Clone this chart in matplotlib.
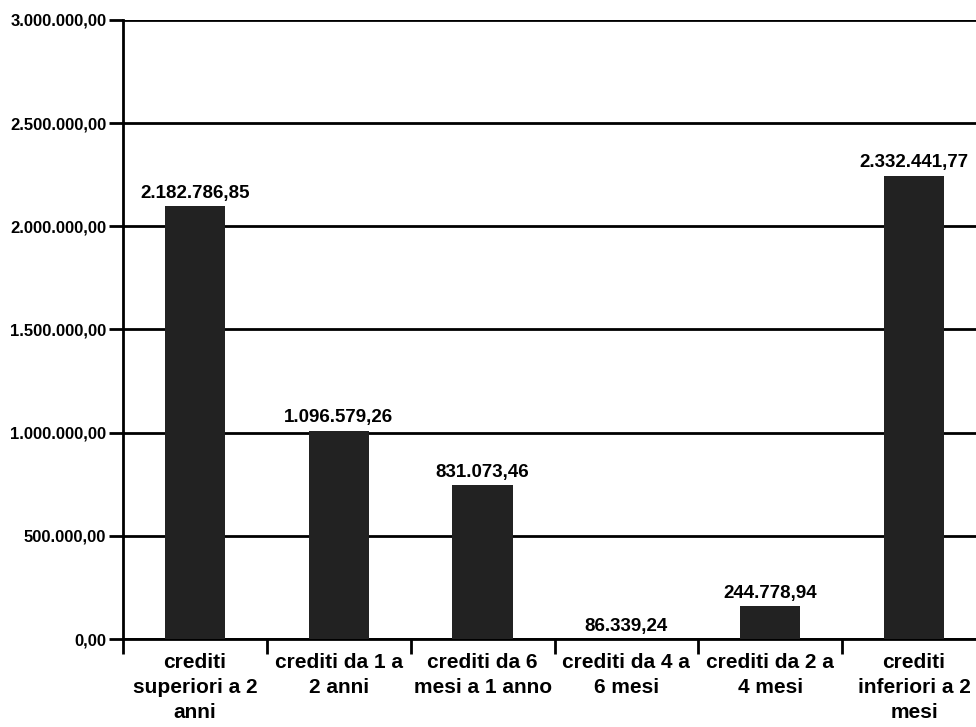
import matplotlib
matplotlib.use("Agg")
import matplotlib.pyplot as plt
import numpy as np

categories = ["crediti\nsuperiori a 2\nanni", "crediti da 1 a\n2 anni", "crediti da 6\nmesi a 1 anno",
              "crediti da 4 a\n6 mesi", "crediti da 2 a\n4 mesi", "crediti\ninferiori a 2\nmesi"]
values = [2182786.85, 1096579.26, 831073.46, 86339.24, 244778.94, 2332441.77]
tick_values = [0, 500000, 1000000, 1500000, 2000000, 2500000, 3000000]


def fmt(v):
    s = f"{v:,.2f}"
    return s.replace(",", "X").replace(".", ",").replace("X", ".")


plt.rcParams['font.family'] = ['Liberation Sans', 'DejaVu Sans']
plt.rcParams['font.weight'] = 'bold'

fig = plt.figure(figsize=(9.76, 7.27), dpi=100)
ax = fig.add_axes([123 / 976, 88 / 727, 863 / 976, 619 / 727])

# the original chart's value axis starts at the smallest value but is labelled 0
base = min(values)
x = np.arange(len(values))
ax.bar(x, values, width=0.42, color="#222222", zorder=3)

ax.set_xlim(-0.5, len(values) - 0.5)
ax.set_ylim(base, base + tick_values[-1])
ax.set_yticks([base + t for t in tick_values])
ax.set_yticklabels([fmt(t) for t in tick_values], fontsize=12, fontweight='bold')
ax.yaxis.grid(True, color="black", linewidth=2, zorder=1)
ax.tick_params(axis='y', length=10, width=2, color='black', pad=2)

ax.set_xticks(np.arange(-0.5, len(values), 1.0))
ax.set_xticklabels([])
ax.set_xticks(x, minor=True)
ax.set_xticklabels(categories, minor=True, fontsize=15, fontweight='bold', linespacing=1.4)
ax.tick_params(axis='x', which='minor', length=0, pad=10)
ax.tick_params(axis='x', which='major', length=11, width=2, color='black')

for s in ['top', 'right']:
    ax.spines[s].set_visible(False)
ax.spines['left'].set_linewidth(2)
ax.spines['bottom'].set_linewidth(2)

for xi, v in zip(x, values):
    ax.annotate(fmt(v), (xi, max(v, base)), xytext=(0, 3), textcoords='offset points',
                ha='center', va='bottom', fontsize=13.5, fontweight='bold', zorder=4)

fig.savefig("out.png", dpi=100)
